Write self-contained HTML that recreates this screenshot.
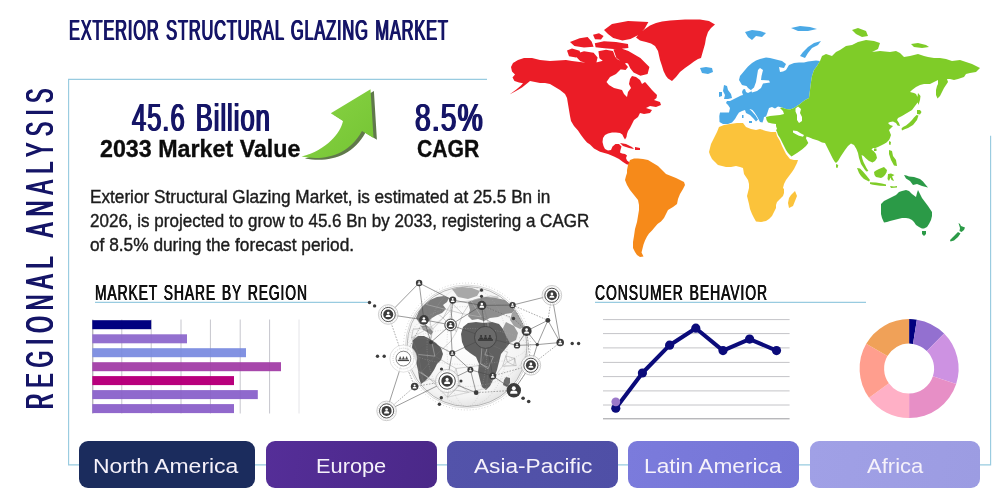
<!DOCTYPE html>
<html lang="en"><head><meta charset="utf-8"><title>Exterior Structural Glazing Market</title>
<style>
html,body{margin:0;padding:0;background:#fff}
body{width:1000px;height:500px;position:relative;overflow:hidden;font-family:'Liberation Sans',sans-serif}
#g{position:absolute;left:0;top:0}
.t{position:absolute;line-height:1;white-space:nowrap;transform-origin:0 0;margin:0}
.btn{position:absolute;top:441px;height:46.8px;border-radius:9px}
</style></head><body>
<svg id="g" width="1000" height="500" viewBox="0 0 1000 500">
<path d="M487 79.4 H68.6 V464.9 H990.6 V135.8" fill="none" stroke="#98cbe0" stroke-width="1.15"/>
<path d="M95 302.4 H369 M595 302.4 H866" fill="none" stroke="#98cbe0" stroke-width="1.15"/>
<path d="M121.8 319.5V413.5 M151.2 319.5V413.5 M181 319.5V413.5 M210.4 319.5V413.5 M240.2 319.5V413.5 M269.6 319.5V413.5" stroke="#cbcbd2" stroke-width="1" fill="none"/><path d="M299 319.5V413.5" stroke="#e4e4e8" stroke-width="1" fill="none"/><path d="M92.8 319.5V413.5" stroke="#9a9aa0" stroke-width="1" fill="none"/>
<rect x="92.3" y="320.2" width="58.9" height="9" fill="#000080"/>
<rect x="92.3" y="334.3" width="94.7" height="9" fill="#9370cf"/>
<rect x="92.3" y="348.2" width="153.7" height="9" fill="#8292e2"/>
<rect x="92.3" y="362.2" width="188.7" height="9" fill="#a747ab"/>
<rect x="92.3" y="376.1" width="141.7" height="9" fill="#b8007c"/>
<rect x="92.3" y="390.1" width="165.5" height="9" fill="#8f69cd"/>
<rect x="92.3" y="404.1" width="141.7" height="9" fill="#9168cc"/>
<path d="M121.8 319.5V413.5 M151.2 319.5V413.5 M181 319.5V413.5 M210.4 319.5V413.5 M240.2 319.5V413.5 M269.6 319.5V413.5" stroke="#202030" stroke-opacity="0.025" stroke-width="1" fill="none"/>
<path d="M603 319.6H789.6 M603 333.6H789.6 M603 347.9H789.6 M603 362.4H789.6 M603 376.6H789.6 M603 390.9H789.6 M603 405H789.6" stroke="#c4c4c8" stroke-width="1" fill="none"/>
<path d="M603 418.8H789.6" stroke="#9a9a9e" stroke-width="1" fill="none"/>
<polyline points="615.8,408.2 642.4,373 669.6,345.2 695.8,328.2 723,350.6 749.6,339.1 776.5,350.6" fill="none" stroke="#0b0b7a" stroke-width="4" stroke-linejoin="round" stroke-linecap="round"/>
<circle cx="615.8" cy="408.2" r="4.6" fill="#0b0b7a"/>
<circle cx="642.4" cy="373" r="4.6" fill="#0b0b7a"/>
<circle cx="669.6" cy="345.2" r="4.6" fill="#0b0b7a"/>
<circle cx="695.8" cy="328.2" r="4.6" fill="#0b0b7a"/>
<circle cx="723" cy="350.6" r="4.6" fill="#0b0b7a"/>
<circle cx="749.6" cy="339.1" r="4.6" fill="#0b0b7a"/>
<circle cx="776.5" cy="350.6" r="4.6" fill="#0b0b7a"/>
<circle cx="615.8" cy="401.8" r="4.4" fill="#9b78c9"/>
<path d="M909.10 319.10A49.5 49.5 0 0 1 916.84 319.71L913.01 343.91A25 25 0 0 0 909.10 343.60Z" fill="#000080"/>
<path d="M916.84 319.71A49.5 49.5 0 0 1 944.10 333.60L926.78 350.92A25 25 0 0 0 913.01 343.91Z" fill="#9370d0"/>
<path d="M944.10 333.60A49.5 49.5 0 0 1 956.18 383.90L932.88 376.33A25 25 0 0 0 926.78 350.92Z" fill="#cd92e2"/>
<path d="M956.18 383.90A49.5 49.5 0 0 1 909.10 418.10L909.10 393.60A25 25 0 0 0 932.88 376.33Z" fill="#e78fc6"/>
<path d="M909.10 418.10A49.5 49.5 0 0 1 869.05 397.70L888.87 383.29A25 25 0 0 0 909.10 393.60Z" fill="#ffb0c6"/>
<path d="M869.05 397.70A49.5 49.5 0 0 1 866.23 343.85L887.45 356.10A25 25 0 0 0 888.87 383.29Z" fill="#ff9e8e"/>
<path d="M866.23 343.85A49.5 49.5 0 0 1 909.10 319.10L909.10 343.60A25 25 0 0 0 887.45 356.10Z" fill="#f0a158"/>
<defs><linearGradient id="ag" x1="0" y1="0" x2="1" y2="1"><stop offset="0" stop-color="#8ad445"/><stop offset="1" stop-color="#74c433"/></linearGradient><filter id="ab" x="-20%" y="-20%" width="140%" height="140%"><feGaussianBlur stdDeviation="0.7"/></filter></defs>
<path d="M370.5 89.3 L330.8 113.3 L343 121 C340.5 133 327 150 301.5 156.6 C323 161 348.5 156 362 131 L373.5 138 Z" fill="#4f6a38" opacity="0.9" filter="url(#ab)" transform="translate(3.4 1.8)"/>
<path d="M370.5 89.3 L330.8 113.3 L343 121 C340.5 133 327 150 301.5 156.6 C323 161 348.5 156 362 131 L373.5 138 Z" fill="url(#ag)"/>

<g id="globe">
<defs><radialGradient id="gg" cx="0.45" cy="0.4" r="0.65"><stop offset="0" stop-color="#ffffff"/><stop offset="0.8" stop-color="#f4f4f4"/><stop offset="1" stop-color="#dcdcdc"/></radialGradient><clipPath id="gc"><circle cx="467" cy="346.5" r="60"/></clipPath></defs>
<circle cx="467" cy="346.5" r="63.5" fill="none" stroke="#9a9a9a" stroke-width="0.5" stroke-dasharray="0.8 2.2"/>
<circle cx="467" cy="346.5" r="61.5" fill="none" stroke="#b5b5b5" stroke-width="0.5"/>
<circle cx="467" cy="346.5" r="60" fill="url(#gg)" stroke="#9c9c9c" stroke-width="0.7"/>
<g clip-path="url(#gc)">
<path d="M416 318 L419 311 L424 305 L430 300 L437 297 L444 296 L449 298 L447 302 L443 305 L446 309 L442 313 L437 315 L432 318 L428 322 L424 325 L420 324Z" fill="#7c7c7c" opacity="1"/>
<path d="M421 326 L426 325 L430 328 L433 332 L431 335 L427 332 L423 330Z" fill="#8a8a8a" opacity="1"/>
<path d="M452 289 L462 287 L472 288 L480 291 L477 296 L468 299 L458 297Z" fill="#a8a8a8" opacity="1"/>
<path d="M413 340 L418 336 L424 336 L430 339 L436 343 L441 348 L443 354 L441 360 L437 364 L434 370 L430 376 L425 381 L421 384 L419 378 L418 370 L416 362 L413 354 L412 347Z" fill="#5f5f5f" opacity="1"/>
<path d="M468 302 L476 299 L486 297 L496 298 L505 300 L512 304 L516 309 L512 313 L505 314 L498 317 L490 318 L484 321 L478 319 L472 320 L468 316 L470 310Z" fill="#8e8e8e" opacity="1"/>
<path d="M505 300 L513 299 L520 304 L525 311 L528 319 L526 326 L520 329 L514 326 L510 320 L512 313 L516 309 L512 304Z" fill="#a2a2a2" opacity="1"/>
<path d="M506 322 L514 326 L518 333 L516 340 L510 343 L505 336 L503 328Z" fill="#9a9a9a" opacity="1"/>
<path d="M463 327 L468 323 L476 322 L484 323 L492 322 L499 324 L503 329 L506 336 L510 343 L506 348 L501 354 L499 362 L497 370 L494 378 L490 386 L486 390 L482 387 L480 380 L478 372 L479 364 L476 357 L470 353 L465 349 L462 342 L461 334Z" fill="#606060" opacity="1"/>
<path d="M506 377 L510 378 L510 383 L507 387 L503 385 L504 380Z" fill="#6e6e6e" opacity="1"/>
<path d="M456.0 368.5L460.0 385.1 M456.0 368.5L448.9 389.0 M456.0 368.5L477.8 365.7 M456.0 368.5L434.8 356.2 M456.4 331.8L450.6 341.4 M456.4 331.8L462.8 313.8 M456.4 331.8L443.1 318.0 M456.4 331.8L450.2 310.5 M431.0 338.2L433.1 328.6 M431.0 338.2L431.1 326.8 M431.0 338.2L434.8 356.2 M431.0 338.2L411.5 337.6 M507.3 361.9L505.9 355.8 M507.3 361.9L502.6 366.2 M507.3 361.9L513.8 365.3 M507.3 361.9L514.8 358.5 M505.9 355.8L507.8 352.3 M505.9 355.8L514.8 358.5 M505.9 355.8L502.6 366.2 M484.9 354.9L493.3 356.8 M484.9 354.9L480.6 363.9 M484.9 354.9L482.2 344.2 M484.9 354.9L488.9 343.8 M418.4 371.5L421.4 372.3 M418.4 371.5L423.6 382.0 M418.4 371.5L429.9 378.9 M418.4 371.5L418.5 354.5 M487.9 367.1L488.1 368.8 M487.9 367.1L480.6 363.9 M487.9 367.1L477.8 365.7 M487.9 367.1L493.3 356.8 M426.3 304.5L431.0 298.8 M426.3 304.5L443.1 318.0 M426.3 304.5L431.1 326.8 M426.3 304.5L450.2 310.5 M433.1 328.6L431.1 326.8 M433.1 328.6L443.1 318.0 M433.1 328.6L413.2 329.2 M482.2 344.2L488.9 343.8 M482.2 344.2L493.3 356.8 M482.2 344.2L480.6 363.9 M487.8 320.8L491.4 322.3 M487.8 320.8L481.3 317.0 M487.8 320.8L488.9 343.8 M487.8 320.8L480.9 298.1 M480.6 363.9L477.8 365.7 M480.6 363.9L488.1 368.8 M447.5 397.2L448.9 389.0 M447.5 397.2L460.0 385.1 M447.5 397.2L468.7 392.3 M447.5 397.2L429.9 378.9 M486.4 388.3L491.5 381.1 M486.4 388.3L468.7 392.3 M486.4 388.3L488.1 368.8 M443.1 318.0L450.2 310.5 M443.1 318.0L431.1 326.8 M443.1 318.0L451.3 302.7 M450.6 341.4L434.8 356.2 M493.3 356.8L488.1 368.8 M450.2 310.5L451.3 302.7 M450.2 310.5L462.8 313.8 M448.9 389.0L460.0 385.1 M448.9 389.0L468.7 392.3 M448.9 389.0L429.9 378.9 M434.8 356.2L418.5 354.5 M434.8 356.2L421.4 372.3 M480.9 298.1L490.6 295.9 M480.9 298.1L471.2 300.9 M480.9 298.1L498.3 297.2 M480.9 298.1L481.3 317.0 M468.7 392.3L460.0 385.1 M411.5 337.6L413.2 329.2 M411.5 337.6L418.5 354.5 M411.5 337.6L431.1 326.8 M462.8 313.8L471.2 300.9 M462.8 313.8L451.3 302.7 M462.8 313.8L481.3 317.0 M488.9 343.8L507.8 352.3 M421.4 372.3L423.6 382.0 M421.4 372.3L429.9 378.9 M421.4 372.3L418.5 354.5 M491.5 381.1L488.1 368.8 M491.5 381.1L502.6 366.2 M514.8 358.5L513.8 365.3 M514.8 358.5L516.2 365.6 M471.2 300.9L481.3 317.0 M471.2 300.9L451.3 302.7 M491.4 322.3L481.3 317.0 M431.1 326.8L413.2 329.2 M498.3 297.2L490.6 295.9 M513.8 365.3L516.2 365.6 M513.8 365.3L502.6 366.2 M429.9 378.9L423.6 382.0 M477.8 365.7L488.1 368.8 M516.2 365.6L502.6 366.2" stroke="#7a7a7a" stroke-width="0.4" fill="none" opacity="0.85"/>
<path d="M456.0 368.5L448.9 389.0 M456.4 331.8L450.6 341.4 M456.4 331.8L450.2 310.5 M431.0 338.2L434.8 356.2 M507.3 361.9L502.6 366.2 M505.9 355.8L507.8 352.3 M484.9 354.9L493.3 356.8 M484.9 354.9L488.9 343.8 M418.4 371.5L429.9 378.9 M487.9 367.1L480.6 363.9 M426.3 304.5L431.0 298.8 M426.3 304.5L450.2 310.5 M433.1 328.6L413.2 329.2 M482.2 344.2L480.6 363.9 M487.8 320.8L488.9 343.8 M480.6 363.9L488.1 368.8 M447.5 397.2L468.7 392.3 M486.4 388.3L468.7 392.3 M443.1 318.0L431.1 326.8 M493.3 356.8L488.1 368.8 M448.9 389.0L460.0 385.1 M434.8 356.2L418.5 354.5 M480.9 298.1L471.2 300.9 M468.7 392.3L460.0 385.1 M411.5 337.6L431.1 326.8 M462.8 313.8L481.3 317.0 M421.4 372.3L429.9 378.9 M491.5 381.1L502.6 366.2 M471.2 300.9L481.3 317.0 M431.1 326.8L413.2 329.2 M513.8 365.3L502.6 366.2 M516.2 365.6L502.6 366.2" stroke="#fff" stroke-width="0.5" fill="none" opacity="0.55"/>
<ellipse cx="467" cy="346.5" rx="20" ry="60" fill="none" stroke="#b0b0b0" stroke-width="0.4" stroke-dasharray="1 1.5"/>
<ellipse cx="467" cy="346.5" rx="40" ry="60" fill="none" stroke="#b0b0b0" stroke-width="0.4" stroke-dasharray="1 1.5"/>
<ellipse cx="467" cy="346.5" rx="60" ry="18" fill="none" stroke="#b0b0b0" stroke-width="0.4" stroke-dasharray="1 1.5"/>
<ellipse cx="467" cy="346.5" rx="60" ry="40" fill="none" stroke="#b0b0b0" stroke-width="0.4" stroke-dasharray="1 1.5"/>
</g>
<path d="M419.1 283L388.2 314.5 M419.1 283L452.7 300.1 M419.1 283L423.9 319.8 M388.2 314.5L423.9 319.8 M403.4 358.6L386.6 410.9 M386.6 410.9L447.1 381 M452.7 300.1L481.8 305.4 M481.8 305.4L512.5 305.1 M512.5 305.1L551.9 295.3 M551.9 295.3L560.2 342.5 M547.9 320.3L560.2 342.5 M547.9 320.3L526.6 331 M526.6 331L537.3 344.6 M560.2 342.5L537.3 344.6 M530.9 365.3L513.8 390.3 M423.9 319.8L450.6 324.9 M450.6 324.9L452.2 353.2 M452.2 353.2L447.1 381 M447.1 381L470.4 369.8 M470.4 369.8L492.7 375.9 M423.9 319.8L431 342.2 M431 342.2L452.2 353.2 M450.6 324.9L481.8 305.4 M452.7 300.1L450.6 324.9 M431 342.2L450.6 324.9 M452.2 353.2L470.4 369.8 M470.4 369.8L476.2 392.7 M517 345.4L526.6 331 M517 345.4L537.3 344.6 M547.9 320.3L537.3 344.6 M530.9 365.3L537.3 344.6 M447.1 381L476.2 392.7 M485.5 337.4L450.6 324.9 M485.5 337.4L452.2 353.2 M485.5 337.4L492.7 375.9 M485.5 337.4L517 345.4 M485.5 337.4L481.8 305.4 M492.7 375.9L513.8 390.3" stroke="#4a4a4a" stroke-width="0.55" fill="none"/>
<path d="M388.2 314.5L403.4 358.6 M403.4 358.6L414.6 386.6 M386.6 410.9L414.6 386.6 M414.6 386.6L447.1 381 M512.5 305.1L547.9 320.3 M551.9 295.3L547.9 320.3 M560.2 342.5L530.9 365.3 M512.5 305.1L526.6 331 M526.6 331L530.9 365.3 M403.4 358.6L431 342.2 M423.9 319.8L403.4 358.6 M481.8 305.4L513.5 318.5 M513.5 318.5L526.6 331 M492.7 375.9L530.9 365.3 M476.2 392.7L513.8 390.3" stroke="#5a5a5a" stroke-width="0.5" stroke-dasharray="1.6 1.3" fill="none"/>
<circle cx="419.1" cy="283" r="3.2" fill="#3c3c3c"/>
<circle cx="419.1" cy="282.10" r="0.87" fill="#fff"/><path d="M417.51 284.59v-0.51q0 -0.97 1.59 -0.97q1.59 0 1.59 0.97v0.51z" fill="#fff"/>
<circle cx="388.2" cy="314.5" r="9.8" fill="#fff" fill-opacity="0.85" stroke="#9a9a9a" stroke-width="0.5"/>
<circle cx="388.2" cy="314.5" r="8.4" fill="none" stroke="#b0b0b0" stroke-width="0.4" stroke-dasharray="1 1"/>
<circle cx="388.2" cy="314.5" r="7.1" fill="#fff" stroke="#3c3c3c" stroke-width="0.9"/>
<circle cx="388.2" cy="314.5" r="5" fill="#3c3c3c"/>
<circle cx="388.2" cy="313.10" r="1.36" fill="#fff"/><path d="M385.72 316.98v-0.80q0 -1.52 2.48 -1.52q2.48 0 2.48 1.52v0.80z" fill="#fff"/>
<circle cx="452.7" cy="300.1" r="3.6" fill="#3c3c3c"/>
<circle cx="452.7" cy="299.09" r="0.98" fill="#fff"/><path d="M450.91 301.89v-0.58q0 -1.09 1.79 -1.09q1.79 0 1.79 1.09v0.58z" fill="#fff"/>
<circle cx="423.9" cy="319.8" r="4.8" fill="#3c3c3c"/>
<circle cx="423.9" cy="318.46" r="1.31" fill="#fff"/><path d="M421.52 322.18v-0.77q0 -1.46 2.38 -1.46q2.38 0 2.38 1.46v0.77z" fill="#fff"/>
<circle cx="450.6" cy="324.9" r="6.2" fill="#fff" fill-opacity="0.85" stroke="#9a9a9a" stroke-width="0.5"/>
<circle cx="450.6" cy="324.9" r="5.7" fill="#fff" stroke="#3c3c3c" stroke-width="0.9"/>
<circle cx="450.6" cy="324.9" r="4" fill="#3c3c3c"/>
<circle cx="450.6" cy="323.78" r="1.09" fill="#fff"/><path d="M448.62 326.88v-0.64q0 -1.22 1.98 -1.22q1.98 0 1.98 1.22v0.64z" fill="#fff"/>
<circle cx="481.8" cy="305.4" r="4.6" fill="#3c3c3c"/>
<circle cx="481.8" cy="304.11" r="1.25" fill="#fff"/><path d="M479.52 307.68v-0.74q0 -1.40 2.28 -1.40q2.28 0 2.28 1.40v0.74z" fill="#fff"/>
<circle cx="551.9" cy="295.3" r="9.8" fill="#fff" fill-opacity="0.85" stroke="#9a9a9a" stroke-width="0.5"/>
<circle cx="551.9" cy="295.3" r="8.4" fill="none" stroke="#b0b0b0" stroke-width="0.4" stroke-dasharray="1 1"/>
<circle cx="551.9" cy="295.3" r="7.1" fill="#fff" stroke="#3c3c3c" stroke-width="0.9"/>
<circle cx="551.9" cy="295.3" r="5" fill="#3c3c3c"/>
<circle cx="551.9" cy="293.90" r="1.36" fill="#fff"/><path d="M549.42 297.78v-0.80q0 -1.52 2.48 -1.52q2.48 0 2.48 1.52v0.80z" fill="#fff"/>
<circle cx="512.5" cy="305.1" r="3.2" fill="#3c3c3c"/>
<circle cx="512.5" cy="304.20" r="0.87" fill="#fff"/><path d="M510.91 306.69v-0.51q0 -0.97 1.59 -0.97q1.59 0 1.59 0.97v0.51z" fill="#fff"/>
<circle cx="526.6" cy="331" r="5" fill="#3c3c3c"/>
<circle cx="526.6" cy="329.60" r="1.36" fill="#fff"/><path d="M524.12 333.48v-0.80q0 -1.52 2.48 -1.52q2.48 0 2.48 1.52v0.80z" fill="#fff"/>
<circle cx="547.9" cy="320.3" r="2.4" fill="#3c3c3c"/>
<circle cx="560.2" cy="342.5" r="3.8" fill="#3c3c3c"/>
<circle cx="560.2" cy="341.44" r="1.03" fill="#fff"/><path d="M558.32 344.38v-0.61q0 -1.16 1.88 -1.16q1.88 0 1.88 1.16v0.61z" fill="#fff"/>
<circle cx="485.5" cy="337.4" r="11" fill="#6a6a6a" stroke="#3f3f3f" stroke-width="0.8"/>
<circle cx="481.1" cy="336.01" r="1.05" fill="#333"/><path d="M479.18 339.02v-0.62q0 -1.18 1.92 -1.18q1.92 0 1.92 1.18v0.62z" fill="#333"/>
<circle cx="485.5" cy="336.01" r="1.05" fill="#333"/><path d="M483.58 339.02v-0.62q0 -1.18 1.92 -1.18q1.92 0 1.92 1.18v0.62z" fill="#333"/>
<circle cx="489.9" cy="336.01" r="1.05" fill="#333"/><path d="M487.98 339.02v-0.62q0 -1.18 1.92 -1.18q1.92 0 1.92 1.18v0.62z" fill="#333"/>
<rect x="478.1" y="339.2" width="14.8" height="1.6" fill="#333"/>
<circle cx="517" cy="345.4" r="3.2" fill="#3c3c3c"/>
<circle cx="517.0" cy="344.50" r="0.87" fill="#fff"/><path d="M515.41 346.99v-0.51q0 -0.97 1.59 -0.97q1.59 0 1.59 0.97v0.51z" fill="#fff"/>
<circle cx="403.4" cy="358.6" r="13.6" fill="#fff" fill-opacity="0.8" stroke="#b8b8b8" stroke-width="0.4"/>
<circle cx="403.4" cy="358.6" r="10.4" fill="none" stroke="#a0a0a0" stroke-width="0.5" stroke-dasharray="1 1"/>
<circle cx="403.4" cy="358.6" r="7.4" fill="#fff" stroke="#555" stroke-width="0.7"/>
<circle cx="400.2" cy="357.19" r="0.78" fill="#444"/><path d="M398.77 359.43v-0.46q0 -0.87 1.43 -0.87q1.43 0 1.43 0.87v0.46z" fill="#444"/>
<circle cx="403.4" cy="357.19" r="0.78" fill="#444"/><path d="M401.97 359.43v-0.46q0 -0.87 1.43 -0.87q1.43 0 1.43 0.87v0.46z" fill="#444"/>
<circle cx="406.6" cy="357.19" r="0.78" fill="#444"/><path d="M405.17 359.43v-0.46q0 -0.87 1.43 -0.87q1.43 0 1.43 0.87v0.46z" fill="#444"/>
<rect x="397.79999999999995" y="359.8" width="11.2" height="1.3" fill="#444"/>
<circle cx="414.6" cy="386.6" r="3.8" fill="#3c3c3c"/>
<circle cx="414.6" cy="385.54" r="1.03" fill="#fff"/><path d="M412.72 388.48v-0.61q0 -1.16 1.88 -1.16q1.88 0 1.88 1.16v0.61z" fill="#fff"/>
<circle cx="386.6" cy="410.9" r="9.8" fill="#fff" fill-opacity="0.85" stroke="#9a9a9a" stroke-width="0.5"/>
<circle cx="386.6" cy="410.9" r="8.4" fill="none" stroke="#b0b0b0" stroke-width="0.4" stroke-dasharray="1 1"/>
<circle cx="386.6" cy="410.9" r="7.1" fill="#fff" stroke="#3c3c3c" stroke-width="0.9"/>
<circle cx="386.6" cy="410.9" r="5" fill="#3c3c3c"/>
<circle cx="386.6" cy="409.50" r="1.36" fill="#fff"/><path d="M384.12 413.38v-0.80q0 -1.52 2.48 -1.52q2.48 0 2.48 1.52v0.80z" fill="#fff"/>
<circle cx="447.1" cy="381" r="11.6" fill="#fff" fill-opacity="0.85" stroke="#9a9a9a" stroke-width="0.5"/>
<circle cx="447.1" cy="381" r="10.3" fill="none" stroke="#b0b0b0" stroke-width="0.4" stroke-dasharray="1 1"/>
<circle cx="447.1" cy="381" r="8.2" fill="#fff" stroke="#3c3c3c" stroke-width="0.9"/>
<circle cx="447.1" cy="381" r="5.8" fill="#3c3c3c"/>
<circle cx="447.1" cy="379.38" r="1.58" fill="#fff"/><path d="M444.22 383.88v-0.93q0 -1.76 2.88 -1.76q2.88 0 2.88 1.76v0.93z" fill="#fff"/>
<circle cx="452.2" cy="353.2" r="3" fill="#3c3c3c"/>
<circle cx="452.2" cy="352.36" r="0.82" fill="#fff"/><path d="M450.71 354.69v-0.48q0 -0.91 1.49 -0.91q1.49 0 1.49 0.91v0.48z" fill="#fff"/>
<circle cx="470.4" cy="369.8" r="3" fill="#3c3c3c"/>
<circle cx="470.4" cy="368.96" r="0.82" fill="#fff"/><path d="M468.91 371.29v-0.48q0 -0.91 1.49 -0.91q1.49 0 1.49 0.91v0.48z" fill="#fff"/>
<circle cx="530.9" cy="365.3" r="9.8" fill="#fff" fill-opacity="0.85" stroke="#9a9a9a" stroke-width="0.5"/>
<circle cx="530.9" cy="365.3" r="8.4" fill="none" stroke="#b0b0b0" stroke-width="0.4" stroke-dasharray="1 1"/>
<circle cx="530.9" cy="365.3" r="7.1" fill="#fff" stroke="#3c3c3c" stroke-width="0.9"/>
<circle cx="530.9" cy="365.3" r="5" fill="#3c3c3c"/>
<circle cx="530.9" cy="363.90" r="1.36" fill="#fff"/><path d="M528.42 367.78v-0.80q0 -1.52 2.48 -1.52q2.48 0 2.48 1.52v0.80z" fill="#fff"/>
<circle cx="513.8" cy="390.3" r="7.2" fill="#3c3c3c"/>
<circle cx="513.8" cy="388.28" r="1.96" fill="#fff"/><path d="M510.23 393.87v-1.15q0 -2.19 3.57 -2.19q3.57 0 3.57 2.19v1.15z" fill="#fff"/>
<circle cx="492.7" cy="375.9" r="3.5" fill="#3c3c3c"/>
<circle cx="492.7" cy="374.92" r="0.95" fill="#fff"/><path d="M490.96 377.64v-0.56q0 -1.06 1.74 -1.06q1.74 0 1.74 1.06v0.56z" fill="#fff"/>
<circle cx="431" cy="342.2" r="2" fill="#3c3c3c"/>
<circle cx="476.2" cy="392.7" r="2.4" fill="#3c3c3c"/>
<circle cx="513.5" cy="318.5" r="1.7" fill="#3c3c3c"/>
<circle cx="537.3" cy="344.6" r="1.7" fill="#3c3c3c"/>
<circle cx="441.5" cy="369" r="1.6" fill="#3c3c3c"/>
<circle cx="461" cy="381" r="1.5" fill="#3c3c3c"/>
<circle cx="369.5" cy="302.5" r="1.7" fill="#3c3c3c"/>
<circle cx="374.6" cy="305.9" r="1.7" fill="#3c3c3c"/>
<circle cx="377.5" cy="356.2" r="1.7" fill="#3c3c3c"/>
<circle cx="384.2" cy="356.2" r="1.7" fill="#3c3c3c"/>
<circle cx="572.2" cy="343.5" r="1.7" fill="#3c3c3c"/>
<circle cx="578.6" cy="343.5" r="1.7" fill="#3c3c3c"/>
<circle cx="523.1" cy="398.3" r="1.8" fill="#3c3c3c"/>
<circle cx="528.7" cy="401.5" r="1.8" fill="#3c3c3c"/>
<circle cx="441.3" cy="397.8" r="1.7" fill="#3c3c3c"/>
<circle cx="439.4" cy="404.2" r="1.7" fill="#3c3c3c"/>
<circle cx="481.5" cy="290.2" r="1.6" fill="#3c3c3c"/>
<circle cx="481.5" cy="296.3" r="1.6" fill="#3c3c3c"/>
</g>
<g id="map" stroke-linejoin="round">
<path d="M513 63 L518 60 L524 58 L532 58 L540 60 L550 61 L558 60.5 L566 60 L572 61 L580 62 L588 63 L596 62.5 L602 61 L606 59.5 L609 57 L612 55 L615 56.5 L617 59 L620 60.5 L623 60.5 L626 61.5 L625 65 L622 67.5 L620 70 L616 74 L610 77 L606.5 82 L609 85 L614 88 L622 90 L624 94 L627 97 L628 92 L631 88 L629 84 L630 79 L632 76 L636 77 L640 80 L642 84 L645 82 L646 83 L649 86.5 L652 90 L655 93 L657 95 L656.5 98 L654 100 L660 102 L661 105 L656 107 L650 106 L646 108 L652 110 L650 113 L644 114 L640 113 L638 117 L634 120 L632 124 L630 128 L628 131 L627 134 L626.5 137 L625 139.5 L623.5 137 L622.3 134.5 L620 133 L616 132.5 L612 132.5 L608 133.5 L605 135 L603 138 L602.5 142 L603.5 146 L605 149 L608 150.5 L611 150 L612.5 146.5 L615.5 144 L619 144 L621.5 146.5 L620.5 150 L620 152.5 L622 153.5 L625 154 L627 155.5 L626 158 L627 160.5 L629 162 L631 163.2 L629.5 165 L626.5 164.2 L623 162 L619 159 L614 156.5 L608 154 L600 151.8 L594 148.5 L590 144.5 L587 142.5 L584 139 L581 135 L578 130.5 L574 126 L571 121 L570 116 L569 110 L568 104 L567 98 L565 94 L560 90 L555 87 L550 84 L545 83 L540 83 L535 82 L530 81 L527 83.5 L522 87.5 L516 91 L509.5 94.6 L516 89.8 L520.5 86 L523 83.2 L519 82.5 L514.5 81 L512.5 77.5 L515 74.5 L512 71.5 L511 67Z M636 37.5 L640 33 L645 29 L650 25.5 L656 23 L662 21.5 L670 20.5 L685 19.5 L700 19.5 L709 21 L715 24.5 L711 28 L708 32 L706 38 L705 44 L703 51 L701 58 L698 59 L694 61.5 L690 64.5 L685 68 L680 72 L676 77 L672 81 L668 78.5 L666 76 L663.5 71 L662 66 L660 60 L658 51 L655 46 L651 43.5 L646 42 L640 40.5Z M567.0 50.4 L572.0 48.6 L579.6 50.8 L580.8 54.8 L576.0 57.6 L569.0 56.2Z M577.6 53.2 L584.0 51.2 L593.6 52.8 L597.6 57.6 L596.4 62.4 L588.4 63.6 L580.4 61.2 L576.6 57.2Z M570.0 42.0 L579.6 38.2 L587.6 37.0 L591.6 41.6 L593.6 46.8 L584.0 47.6 L574.4 46.0Z M593.0 34.8 L599.0 33.2 L603.6 36.0 L601.0 39.6 L595.0 39.2Z M594.8 43.2 L604.0 41.2 L616.0 42.0 L628.0 44.0 L628.4 48.0 L616.4 49.2 L604.4 48.2 L595.6 47.2Z M598.4 51.2 L606.0 49.8 L613.0 51.0 L615.2 57.0 L612.4 61.2 L604.4 62.0 L599.4 58.2Z M613.4 49.4 L620.0 48.0 L628.4 51.0 L640.4 58.0 L649.4 67.0 L647.6 74.0 L640.4 75.8 L633.6 72.4 L630.4 68.4 L628.0 63.6 L622.4 62.0 L616.4 58.0Z M604.0 30.0 L612.0 24.0 L628.0 21.0 L648.4 22.0 L644.4 29.0 L638.4 35.0 L630.4 39.0 L622.4 40.6 L613.2 38.0 L608.0 34.0Z M619.2 64.4 L625.0 63.6 L628.0 67.0 L625.6 70.0 L620.0 69.2Z M620 143 L626 144 L632 147 L634 149 L629 148 L623 146Z M635 147 L640 148 L640 150 L635 150Z" fill="#eb1c26"/>
<path d="M630 160 L634 158.5 L638 158.4 L643 159 L648 160 L653 163 L658 166 L662 170 L666 174 L671 176 L676 178 L680 180 L684 182 L685 185 L683 189 L680 194 L678 199 L677 204 L673 207 L668 210 L666 214 L664 218 L661 221.5 L657.5 224 L654.5 227.5 L652 230.5 L649 233.5 L647 236.5 L645 240.5 L643.5 244.5 L642.5 248.5 L641.5 252.5 L643.5 256.4 L640 257 L637 255 L635 252 L633 248 L633 242 L634 236 L635 229 L637 222 L638 216 L639 210 L639 205 L638 200 L634 195 L630 190 L627 185 L625 180 L626 176 L627 173 L627 170 L628 165Z" fill="#f68a1a"/>
<path d="M719 127 L724 125 L730 124 L737 123 L743 123 L746 127 L751 129 L756 130 L760 129 L766 131 L771 132 L776 132 L777 136 L780 141 L782 146 L784 150 L786 154 L790 159 L794 160 L798 160 L797 163 L796 165 L794 169 L792 172 L789 176 L786 180 L784 184 L783 188 L784 189 L784 193 L783 196 L780 199 L777 202 L776 205 L776 208 L774 212 L772 216 L769 219 L766 221 L761 222 L756 221.6 L754 218 L752 214 L750 209 L749 204 L748 200 L747 196 L748 192 L749 188 L749 184 L748 180 L746 177 L744 174 L743 168 L740 167 L736 166 L731 167 L726 167 L722 166 L718 165 L715 162 L712 159 L710 155 L709 152 L710 148 L711 144 L713 140 L715 136 L717 132Z M795 191 L797 196 L795 201 L793 206 L789 208 L788 203 L789 198 L791 195Z" fill="#fbc33b"/>
<path d="M739 80 L740 76 L742.5 73 L745 70 L748 66.5 L752 63 L756 60.5 L760 59 L766 57.6 L770 58 L774 59 L778 60 L782 61 L786 64 L784 68 L781 67.5 L779 67 L780 72 L783 71.5 L786 70 L789 65 L794 63 L799 62.5 L804 62.4 L808 61.5 L812 61 L816 60.5 L820 61 L817 66 L814 70 L812 76 L811 82 L810 90 L809 98 L806 99.5 L803 101.5 L800 104 L797 106 L794 108 L790 109.5 L786 109 L782 107.5 L778 106.5 L775 108.5 L772 107 L769 108 L768 111 L767 114 L766 116.5 L764 117 L763.5 119.5 L762.5 122.5 L760 122 L758.5 119 L756.5 115.5 L754.5 112.5 L752.5 110 L750 109 L748 109 L745 110 L742 111 L739 112.5 L737 115.5 L735 119 L732 122.5 L728 124 L723 124 L719.5 122 L719.3 116 L720 112.5 L724 112.5 L729 112.5 L730 108 L728 105 L726 103 L727 101 L730 101 L734 99 L738 97 L741 95.5 L743 95 L742 92 L743 89.5 L745 89 L746 92 L748 93 L750 92 L752 91 L750 89.5 L748 88 L746.5 86 L744 85.5 L742 85Z M745 110 L749 108.5 L752 111.5 L755.5 115.5 L758 119.5 L756 121.5 L753 118 L750 115 L746 113Z M749 121 L752 121 L752 123 L749 123Z M742 115 L743.5 115 L743.5 118 L742 118Z M724 85 L727 86 L728 90 L731 94 L732 98 L728 99 L724 99 L725 95 L723 91Z M719 92 L722 92 L722 96 L719 97Z M700 68 L706 67 L712 68 L713 72 L708 74 L702 73Z M745 32 L752 30 L760 31 L766 33 L762 37 L756 36 L752 40 L748 37Z M800 56 L803 52 L808 47 L814 43 L821 41 L818 45 L812 48 L808 53 L805 58Z M791 28 L800 26 L810 27 L817 29 L808 31 L798 31Z" fill="#4ba9e6"/>
<path d="M820 61 L822 56 L826 54 L832 56 L836 52 L840 50 L846 46 L852 45 L858 42 L866 40 L874 41 L880 43 L878 49 L872 52 L880 51 L890 52 L896 51 L900 53 L904 57 L910 56 L918 54 L924 56 L928 57 L934 58 L940 58 L946 59 L952 61 L960 60 L966 62 L972 64 L980 68 L976 72 L970 73 L966 74 L964 77 L958 79 L954 80 L950 79 L947 79 L948 82 L946 85 L944 88 L942 92 L940 96 L937.5 98.5 L936 95 L936 90 L937 86 L938 84 L938 80 L934 82 L930 84 L924 84 L920 85 L916 87 L912 90 L910 92 L914 93 L916 94 L918 98 L918 102 L915 106 L912 110 L907 113 L902 116 L898 118 L897 120 L899 123 L900 126 L897.5 125.5 L896 123 L893 121.5 L890 122 L888 123 L890 125 L893 126 L891 128 L889 130 L890 132.5 L891 135 L890 138 L889 140 L886.5 142.5 L884 144 L881 145.5 L878 147 L875.5 148 L873 148 L871.5 149.5 L874 151.5 L876 154 L877 158 L875 161 L872.5 162.5 L869 161 L866 158.5 L863.6 156 L861.6 155 L862.4 159 L863.5 162 L865 165 L866.5 168 L868.4 171 L866.5 171.5 L865 170 L863 167 L861 164 L859 158 L858 153 L856.4 149 L854 145 L851 143.6 L848 146 L845 150 L843 153 L841 156 L838 161 L836 163 L834.5 161.5 L833 159 L830 153 L827 147 L825 143 L822 142.4 L818 140.4 L813 139 L809.5 137.5 L806.5 136.5 L806 138.5 L808.3 143 L806 146 L802 149.5 L797 153 L791.5 156.5 L788 153 L786 150 L784 146 L782 142 L780 138 L778 135 L777 132 L776 130 L777 129 L776 126 L776 124 L772 123.5 L768 122.5 L766.5 120 L766 117 L770 116 L775 115.5 L780 115 L784 114 L783 111 L780 108 L782 107.5 L786 109 L790 109.5 L794 108 L797 106 L800 104 L803 101.5 L806 99.5 L809 98 L810 90 L811 82 L812 76 L814 70 L817 66Z M852 30 L858 28 L866 31 L868 36 L862 37 L856 34Z M911 44 L918 43 L926 45 L929 47 L922 48 L914 47Z M918 93 L920.5 96 L920 100 L918.5 105 L917 100Z M917 110 L920 110 L921.5 112 L920 114.5 L917 114Z M916.5 115 L918.5 115.5 L917 120 L913 125 L908 128 L904 129.5 L902 130.5 L901.5 128.5 L903 127 L906 125.5 L909 123 L912 120 L914 117.5Z M889 141 L891 142 L890.5 145 L889 144.5Z M889 150 L892 151 L893 156 L896 160 L897 166 L894 165.5 L891 160 L889 154Z M874 148.5 L876.5 148.5 L876.5 151 L874 151Z M836 164 L838.3 165 L837.5 168 L836 167.5Z M857 168 L860 168.4 L863 171.5 L866 175 L868 177.5 L870 180 L869 181.6 L864 179 L861 176 L859 173Z M874 172 L876 170.5 L879 169 L884 167 L887 170 L886.5 172.5 L885 175 L883 177 L881 178 L876 177 L874.5 175Z M870 182.2 L876 182.6 L882 183.4 L886 184.4 L886 186 L880 185.8 L873 184.8 L870 184Z M888 174 L891 173.5 L894.5 175 L892 176.5 L894 181 L891.5 180 L890.5 177.5 L889 181 L887.5 179Z M890 186 L894 186.5 L897 186 L897 187.5 L891 188Z" fill="#7fcc28"/>
<path d="M904 175 L906.5 175.5 L909 176.4 L914 177 L920 179 L923 181.5 L925 184 L928 187.6 L922 186 L917 184 L913 185 L910 181 L906 178.5Z M881 204 L884 201 L888 199 L892 197 L896 195 L899 192 L902 191 L906 190 L909 191 L912 194 L916 197 L917 193 L918 190 L920 194 L922 198 L925 202 L928 206 L930 209 L932 212 L932 216 L931 220 L929 224 L927 227 L924 228.4 L922 228.4 L919 227 L916 225 L914 222 L912 220 L909 218.5 L906 218 L902 218 L898 219 L894 220 L890 221 L887 222 L884 222.4 L882 218 L881 214 L881 210Z M922 231 L926 231 L926 234 L924 236 L922 234Z M958.5 223 L960 224 L961 226 L965 227.5 L964 230 L961.5 232 L959.5 231 L960 228Z M958 232 L960.5 233.5 L958 237 L954 240.5 L950.5 241.5 L950 240 L953 237 L956 234Z" fill="#2b9a47"/>
<path d="M760 68 L763 70 L761.5 76 L761 80 L769 80.5 L770 82.5 L763 83.5 L761 88 L757 91 L752 92.5 L751 90 L754 87.5 L756 82 L757 76 L758 70Z M795.5 108.5 L798 106.5 L801 109 L800 113 L802 117 L802 121 L799 123 L797 120 L797 115 L795.5 111.5Z M793 130.5 L797 131 L801 133.5 L804 135 L803 136.7 L799 135.7 L796 134.2 L793 132.6Z" fill="#fff"/>
</g>
</svg>
<div class="t" style="left:68.88px;top:16.00px;font-size:28.63px;color:#151567;font-weight:normal;transform:scaleX(0.5736);letter-spacing:1.43px;word-spacing:2.29px;text-shadow:1.00px 0 0 #151567,-1.00px 0 0 #151567;">EXTERIOR STRUCTURAL GLAZING MARKET</div>
<div class="t" style="left:132.37px;top:98.80px;font-size:38.37px;color:#151567;font-weight:normal;transform:scaleX(0.6639);letter-spacing:1.53px;word-spacing:3.07px;text-shadow:1.15px 0 0 #151567,-1.15px 0 0 #151567;">45.6 Billion</div>
<div class="t" style="left:100.29px;top:136.50px;font-size:24.56px;color:#0c0c0c;font-weight:bold;transform:scaleX(0.9476);-webkit-text-stroke:0.35px #0c0c0c;">2033 Market Value</div>
<div class="t" style="left:415.03px;top:99.20px;font-size:38.37px;color:#151567;font-weight:normal;transform:scaleX(0.7353);letter-spacing:1.53px;word-spacing:3.07px;text-shadow:1.15px 0 0 #151567,-1.15px 0 0 #151567;">8.5%</div>
<div class="t" style="left:417.41px;top:137.20px;font-size:23.84px;color:#0c0c0c;font-weight:bold;transform:scaleX(0.8891);-webkit-text-stroke:0.35px #0c0c0c;">CAGR</div>
<div class="t" style="left:90.08px;top:188.00px;font-size:18.17px;color:#1c1c1c;font-weight:normal;transform:scaleX(0.9464);-webkit-text-stroke:0.4px #1c1c1c;">Exterior Structural Glazing Market, is estimated at 25.5 Bn in</div>
<div class="t" style="left:89.86px;top:212.20px;font-size:18.17px;color:#1c1c1c;font-weight:normal;transform:scaleX(0.9369);-webkit-text-stroke:0.4px #1c1c1c;">2026, is projected to grow to 45.6 Bn by 2033, registering a CAGR</div>
<div class="t" style="left:89.89px;top:236.10px;font-size:18.17px;color:#1c1c1c;font-weight:normal;transform:scaleX(0.9515);-webkit-text-stroke:0.4px #1c1c1c;">of 8.5% during the forecast period.</div>
<div class="t" style="left:95.12px;top:282.00px;font-size:22.24px;color:#111;font-weight:normal;transform:scaleX(0.6232);letter-spacing:1.45px;word-spacing:1.78px;text-shadow:0.53px 0 0 #111,-0.53px 0 0 #111;">MARKET SHARE BY REGION</div>
<div class="t" style="left:595.49px;top:282.00px;font-size:22.24px;color:#111;font-weight:normal;transform:scaleX(0.6278);letter-spacing:1.45px;word-spacing:1.78px;text-shadow:0.53px 0 0 #111,-0.53px 0 0 #111;">CONSUMER BEHAVIOR</div>
<div class="t" style="left:21.40px;top:409.42px;font-size:38.23px;color:#151567;font-weight:normal;letter-spacing:10.668px;word-spacing:0px;text-shadow:1.22px 0 0 #151567,-1.22px 0 0 #151567;transform:rotate(-90deg) scaleX(0.56);">REGIONAL</div>
<div class="t" style="left:21.40px;top:237.30px;font-size:38.23px;color:#151567;font-weight:normal;letter-spacing:11.541px;word-spacing:0px;text-shadow:1.22px 0 0 #151567,-1.22px 0 0 #151567;transform:rotate(-90deg) scaleX(0.56);">ANALYSIS</div>
<div class="btn" style="left:78.9px;width:176.4px;background:linear-gradient(100deg,#1b2c5d,#1b2c5d);"><div class="t" style="left:14.60px;top:13.50px;font-size:21.08px;color:#f5f1fa;font-weight:normal;transform:scaleX(1.0884);">North America</div></div>
<div class="btn" style="left:266.4px;width:170.6px;background:linear-gradient(100deg,#552e98,#4a2888);"><div class="t" style="left:49.79px;top:13.50px;font-size:21.08px;color:#f5f1fa;font-weight:normal;transform:scaleX(1.0330);">Europe</div></div>
<div class="btn" style="left:447px;width:171.0px;background:linear-gradient(100deg,#5353aa,#4f4fa6);"><div class="t" style="left:26.70px;top:13.50px;font-size:21.08px;color:#f5f1fa;font-weight:normal;transform:scaleX(1.0740);">Asia-Pacific</div></div>
<div class="btn" style="left:628.2px;width:170.8px;background:linear-gradient(100deg,#7b7bdc,#7575d6);"><div class="t" style="left:15.67px;top:13.50px;font-size:21.08px;color:#f5f1fa;font-weight:normal;transform:scaleX(1.0770);">Latin America</div></div>
<div class="btn" style="left:810px;width:170.0px;background:linear-gradient(100deg,#a0a0e6,#9c9ce2);"><div class="t" style="left:56.80px;top:13.50px;font-size:21.08px;color:#f5f1fa;font-weight:normal;transform:scaleX(1.0444);">Africa</div></div>
</body></html>
